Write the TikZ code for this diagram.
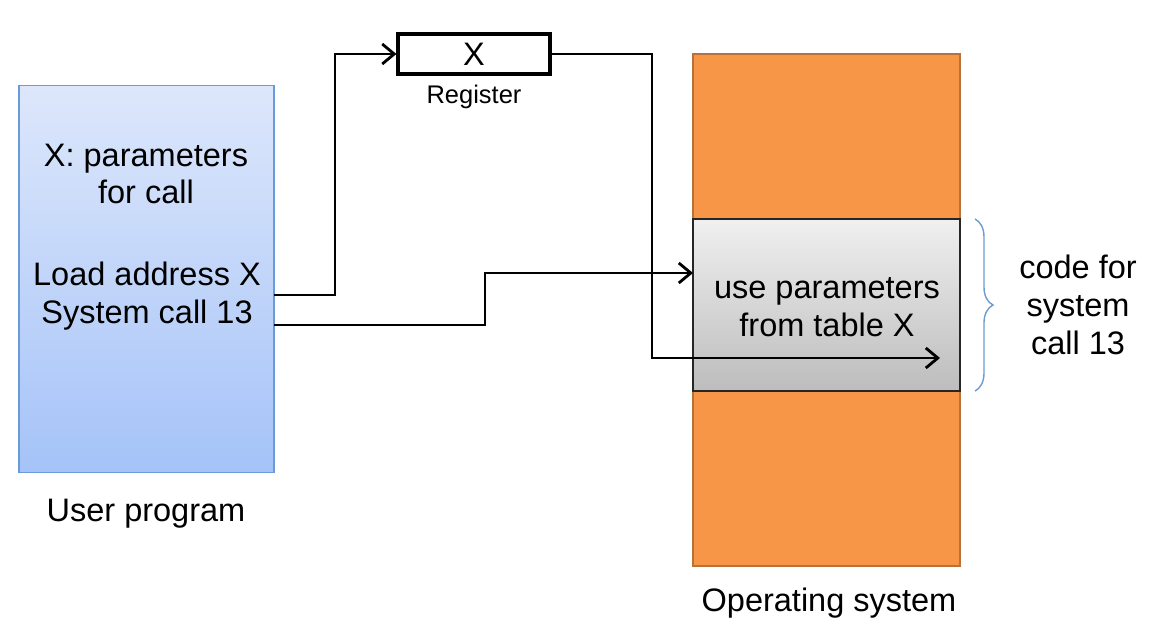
\documentclass[tikz,border=0pt]{standalone}
\usepackage{fontspec}
\setmainfont{Liberation Sans}
\usepackage{tikz}
\usetikzlibrary{arrows.meta, decorations.pathreplacing}
\definecolor{userfill top}{HTML}{DDE7FB}
\definecolor{userfill bot}{HTML}{A5C3F8}
\definecolor{userline}{HTML}{6A9AD8}
\definecolor{osfill}{HTML}{F79646}
\definecolor{osline}{HTML}{B7713A}
\definecolor{bracecol}{HTML}{6D9BD4}
\tikzstyle{userbox} = [rectangle,
minimum width=5.1cm,
minimum height=7.76cm,
draw=userline,
line width=0.6pt,
top color=userfill top,
bottom color=userfill bot]
\tikzstyle{regbox} = [rectangle,
minimum width=3.04cm,
minimum height=0.8cm,
draw=black,
line width=1.8pt,
fill=white]
\tikzstyle{osbox} = [rectangle,
minimum width=5.34cm,
minimum height=10.24cm,
draw=osline,
line width=1.4pt,
fill=osfill]
\tikzstyle{tabbox} = [rectangle,
minimum width=5.34cm,
minimum height=3.44cm,
draw=black!85,
line width=0.9pt,
top color=black!6,
bottom color=black!26]
\tikzstyle{txt} = [align=center, font=\fontsize{18.5}{21.5}\selectfont]
\tikzstyle{arrow} = [line width=1.6pt,-{Straight Barb[length=2.4mm,width=4mm]}]

\begin{document}
\begin{tikzpicture}[x=0.02cm, y=-0.02cm]
            \useasboundingbox (0,0) rectangle (1157,636);
            \node (user) [userbox] at (146.5,279) {};
            \node (os) [osbox] at (826.5,310) {};
            \node (tab) [tabbox] at (826.5,305) {};
            \node (reg) [regbox] at (474,54) {};

            \node (regx) [txt] at (reg) {X};
            \node (reglabel) [below of=reg, node distance=0.85cm, font=\fontsize{14.5}{17}\selectfont] {Register};
            \node (param) [txt] at (146,174) {X: parameters\\for call};
            \node (load) [txt] at (147,296) {Load address X\\System call 13};
            \node (usetab) [txt] at (827,307) {use parameters\\from table X};
            \node (code) [txt] at (1078,305) {code for\\system\\call 13};
            \node (userlabel) [txt] at (146,514) {User program};
            \node (oslabel) [txt] at (829,603) {Operating system};

            \coordinate (loadout) at (274,295);
            \coordinate (callout) at (274,325);
            \coordinate (tabin) at (693,273);
            \coordinate (tabend) at (940,358);

            \draw [arrow] (loadout) -- (335,295) |- (reg.west);
            \draw [arrow] (reg.east) -- (652,54) |- (tabend);
            \draw [arrow] (callout) -- (485,325) |- (tabin);
            \draw [bracecol, line width=0.8pt, decorate, decoration={brace, amplitude=0.36cm}] (975,219) -- (975,391);
        \end{tikzpicture}
\end{document}
